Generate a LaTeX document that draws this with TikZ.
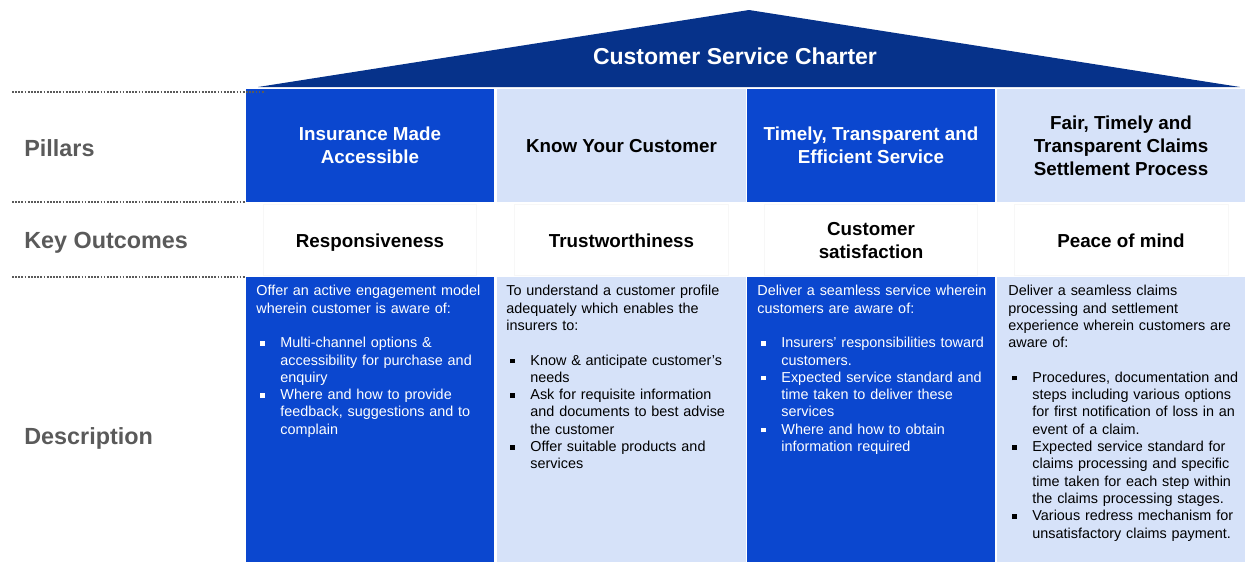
\documentclass[tikz,border=0pt]{standalone}
\usepackage{fontspec}
\setmainfont{Liberation Sans}
\usetikzlibrary{calc}

\definecolor{roofblue}{RGB}{6,50,138}
\definecolor{pillarblue}{RGB}{11,71,207}
\definecolor{pillarlight}{RGB}{214,226,249}
\definecolor{labelgray}{RGB}{90,90,90}

% square bullet with hanging indent (break item lines with \newline)
\newcommand{\sqitem}{\par\noindent\hangindent=13.7pt\hangafter=1%
  \makebox[13.7pt][l]{\hspace{2.3pt}\rule[0.25ex]{0.32em}{0.32em}}}

\tikzset{
  rowlabel/.style={anchor=base west, inner sep=0pt, text=labelgray,
    font=\fontsize{13.3}{16}\selectfont\bfseries},
  pillarhead/.style={align=center, inner sep=0pt,
    font=\fontsize{10.7}{13}\selectfont\bfseries},
  outcome/.style={align=center, inner sep=0pt,
    font=\fontsize{10.7}{13}\selectfont\bfseries},
  desctext/.style={anchor=north west, inner sep=0pt, text width=4.72cm,
    align=left, font=\fontsize{8.2}{9.85}\selectfont},
  guide/.style={labelgray, line width=1pt, dash pattern=on 1pt off 0.8pt}
}

\begin{document}
\begin{tikzpicture}[x=0.02cm, y=-0.02cm]

\useasboundingbox (0,0) rectangle (1245,562);

% Roof
\fill[roofblue] (258,87) -- (749,10) -- (1240,87) -- cycle;
\node[pillarhead, text=white, font=\fontsize{13.1}{16}\selectfont\bfseries]
  (charter) at (735,56) {Customer Service Charter};

% Columns
\fill[pillarblue]  (246,89) rectangle (494,202);
\fill[pillarlight] (497,89) rectangle (746,202);
\fill[pillarblue]  (747,89) rectangle (995,202);
\fill[pillarlight] (997,89) rectangle (1245,202);

\fill[pillarblue]  (246,277) rectangle (494,562);
\fill[pillarlight] (497,277) rectangle (746,562);
\fill[pillarblue]  (747,277) rectangle (995,562);
\fill[pillarlight] (997,277) rectangle (1245,562);

% Key outcome cells
\draw[black!3] (263,204) rectangle (476,275);
\draw[black!3] (514,204) rectangle (728,275);
\draw[black!3] (764,204) rectangle (977,275);
\draw[black!3] (1014,204) rectangle (1228,275);

% Row guides
\draw[guide] (12,92) -- (265,92);
\draw[guide] (12,202) -- (246,202);
\draw[guide] (12,277) -- (246,277);

% Row labels
\node[rowlabel] (pillars) at (24,156) {Pillars};
\node[rowlabel] (keyout) at (24,248) {Key Outcomes};
\node[rowlabel] (descr) at (24,444) {Description};

% Pillars
\node[pillarhead, text=white] (p1) at (370,145.5) {Insurance Made\\Accessible};
\node[pillarhead, anchor=base] (p2) at (621.5,152) {Know Your Customer};
\node[pillarhead, text=white] (p3) at (871,145.5) {Timely, Transparent and\\Efficient Service};
\node[pillarhead] (p4) at (1121,145.5) {Fair, Timely and\\Transparent Claims\\Settlement Process};

% Key outcomes
\node[outcome, anchor=base] (o1) at (370,247) {Responsiveness};
\node[outcome, anchor=base] (o2) at (621.5,247) {Trustworthiness};
\node[outcome] (o3) at (871,240.5) {Customer\\satisfaction};
\node[outcome, anchor=base] (o4) at (1121,247) {Peace of mind};

% Descriptions
\node[desctext, text=white] (d1) at (256,285) {%
  Offer an active engagement model\\wherein customer is aware of:
  \par\vspace{9.85pt}
  \sqitem Multi-channel options \&\newline accessibility for purchase and\newline enquiry
  \sqitem Where and how to provide\newline feedback, suggestions and to\newline complain\par};

\node[desctext] (d2) at (506,285) {%
  To understand a customer profile\\adequately which enables the\\insurers to:
  \par\vspace{9.85pt}
  \sqitem Know \& anticipate customer's\newline needs
  \sqitem Ask for requisite information\newline and documents to best advise\newline the customer
  \sqitem Offer suitable products and\newline services\par};

\node[desctext, text=white] (d3) at (757,285) {%
  Deliver a seamless service wherein\\customers are aware of:
  \par\vspace{9.85pt}
  \sqitem Insurers' responsibilities toward\newline customers.
  \sqitem Expected service standard and\newline time taken to deliver these\newline services
  \sqitem Where and how to obtain\newline information required\par};

\node[desctext] (d4) at (1008,285) {%
  Deliver a seamless claims\\processing and settlement\\experience wherein customers are\\aware of:
  \par\vspace{9.85pt}
  \sqitem Procedures, documentation and\newline steps including various options\newline for first notification of loss in an\newline event of a claim.
  \sqitem Expected service standard for\newline claims processing and specific\newline time taken for each step within\newline the claims processing stages.
  \sqitem Various redress mechanism for\newline unsatisfactory claims payment.\par};

\end{tikzpicture}
\end{document}
